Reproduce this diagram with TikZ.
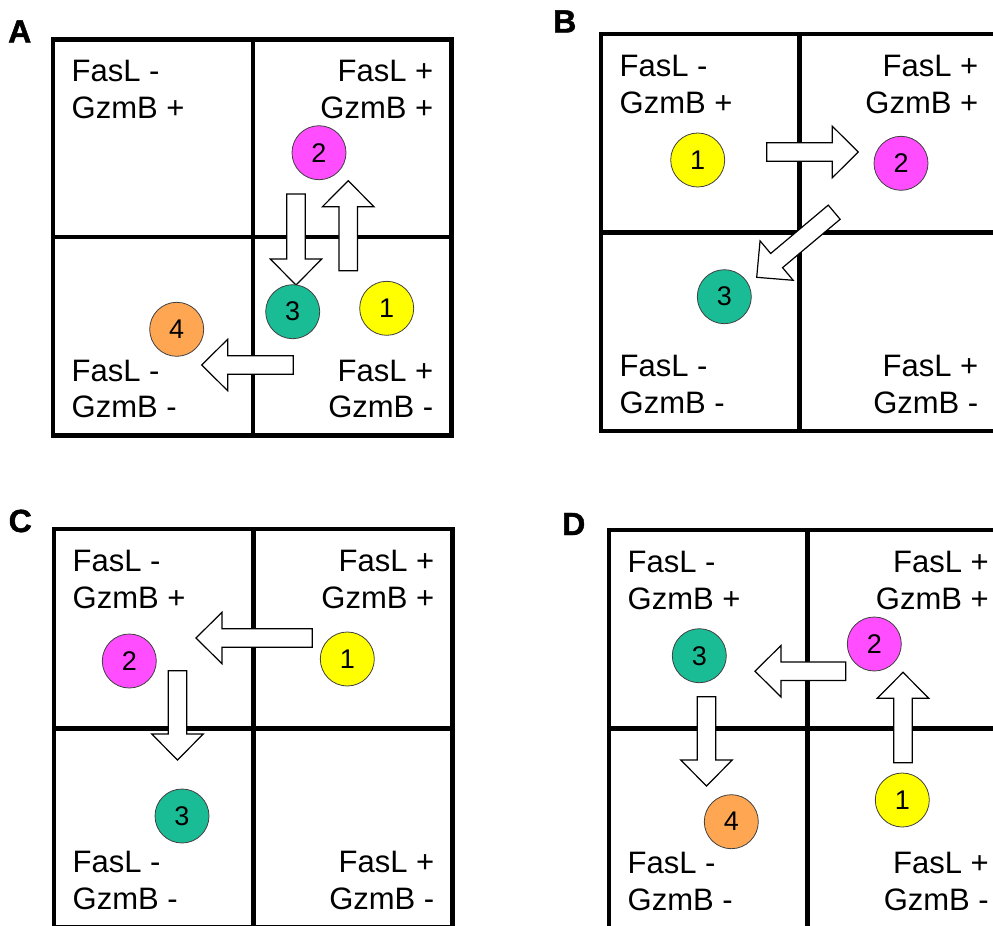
\documentclass[tikz,border=0pt]{standalone}
\usepackage{fontspec}
\setmainfont{Liberation Sans}
\newfontfamily\lblfont{Liberation Sans Bold}[FakeBold=1.5]
\usetikzlibrary{calc}
\definecolor{cyel}{RGB}{255,255,0}
\definecolor{cmag}{RGB}{255,77,255}
\definecolor{cteal}{RGB}{26,188,150}
\definecolor{corg}{RGB}{255,166,82}
\tikzset{
  gridline/.style={line width=4.5pt, line join=miter},
  cell/.style={circle, draw=black!75, line width=0.8pt, minimum size=54pt, inner sep=0pt, font=\fontsize{27}{27}\selectfont},
  lab/.style={inner sep=0pt, font=\fontsize{31}{36}\selectfont},
  panellab/.style={inner sep=0pt, anchor=base west, font=\lblfont\fontsize{32}{32}\selectfont},
  blockar/.style={draw=black, line width=1.2pt, fill=white, line join=miter},
}
% #1 prefix, #2 L, #3 R, #4 T, #5 B, #6 mx, #7 my
\newcommand\quadpanel[7]{%
  \draw[gridline] (#2,#4) rectangle (#3,#5);
  \draw[gridline] (#6,#4) -- (#6,#5);
  \draw[gridline] (#2,#7) -- (#3,#7);
  \node[lab, anchor=base west] (#1tla) at ({#2+18.5},{#4+42}) {FasL -};
  \node[lab, anchor=base west] (#1tlb) at ({#2+18.5},{#4+79}) {GzmB +};
  \node[lab, anchor=base east] (#1tra) at ({#3-18},{#4+42}) {FasL +};
  \node[lab, anchor=base east] (#1trb) at ({#3-18},{#4+79}) {GzmB +};
  \node[lab, anchor=base west] (#1bla) at ({#2+18.5},{#5-54.5}) {FasL -};
  \node[lab, anchor=base west] (#1blb) at ({#2+18.5},{#5-18}) {GzmB -};
  \node[lab, anchor=base east] (#1bra) at ({#3-18},{#5-54.5}) {FasL +};
  \node[lab, anchor=base east] (#1brb) at ({#3-18},{#5-18}) {GzmB -};
}
% #1 name, #2 tail coordinate, #3 tip coordinate
\newcommand\blockarrow[3]{%
  \coordinate (#1b) at ($(#3)!26pt!(#2)$);
  \draw[blockar] ($(#2)!9.25pt!90:(#3)$) -- ($(#1b)!9.25pt!90:(#3)$) -- ($(#1b)!25.75pt!90:(#3)$) -- (#3)
    -- ($(#1b)!25.75pt!-90:(#3)$) -- ($(#1b)!9.25pt!-90:(#3)$) -- ($(#2)!9.25pt!-90:(#3)$) -- cycle;
}
\begin{document}
\begin{tikzpicture}[x=1pt,y=-1pt]
\useasboundingbox (0,0) rectangle (993,926);
\clip (0,0) rectangle (993,926);

% ---------- Panel A ----------
\node[panellab] (labA) at (8,42.5) {A};
\quadpanel{a}{53}{451.5}{39.5}{435.5}{253}{237}
\coordinate (a1t) at (296,194);   \coordinate (a1h) at (296,285);
\coordinate (a2t) at (348.2,270.7); \coordinate (a2h) at (348.2,180.7);
\coordinate (a3t) at (293.3,365);  \coordinate (a3h) at (201.7,365);
\blockarrow{aar1}{a1t}{a1h}
\blockarrow{aar2}{a2t}{a2h}
\blockarrow{aar3}{a3t}{a3h}
\node[cell, fill=cyel] (a1) at (386.7,308.3) {1};
\node[cell, fill=cmag] (a2) at (319,152.7) {2};
\node[cell, fill=cteal] (a3) at (292.7,311.7) {3};
\node[cell, fill=corg] (a4) at (176.7,329.3) {4};

% ---------- Panel B ----------
\node[panellab] (labB) at (553,32.5) {B};
\quadpanel{b}{601}{996.5}{34}{431}{799.5}{232.5}
\coordinate (b1t) at (766.7,152); \coordinate (b1h) at (858.3,152);
\coordinate (b2t) at (834.2,212.2); \coordinate (b2h) at (756.7,277.3);
\blockarrow{bar1}{b1t}{b1h}
\blockarrow{bar2}{b2t}{b2h}
\node[cell, fill=cyel] (b1) at (697.7,160) {1};
\node[cell, fill=cmag] (b2) at (901,163.3) {2};
\node[cell, fill=cteal] (b3) at (724.3,296.7) {3};

% ---------- Panel C ----------
\node[panellab] (labC) at (8.5,532) {C};
\quadpanel{c}{54}{452.5}{529}{927}{253.3}{728.5}
\coordinate (c1t) at (312.3,638); \coordinate (c1h) at (196,638);
\coordinate (c2t) at (177.5,670.7); \coordinate (c2h) at (177.5,760);
\blockarrow{car1}{c1t}{c1h}
\blockarrow{car2}{c2t}{c2h}
\node[cell, fill=cyel] (c1) at (347.3,659) {1};
\node[cell, fill=cmag] (c2) at (129.3,661) {2};
\node[cell, fill=cteal] (c3) at (182,816) {3};

% ---------- Panel D ----------
\node[panellab] (labD) at (562,535) {D};
\quadpanel{d}{609}{1007}{530}{928}{807.5}{728.5}
\coordinate (d1t) at (903,762.7); \coordinate (d1h) at (903,672.3);
\coordinate (d2t) at (845.7,671.2); \coordinate (d2h) at (755,671.2);
\coordinate (d3t) at (706.5,696.7); \coordinate (d3h) at (706.5,786);
\blockarrow{dar1}{d1t}{d1h}
\blockarrow{dar2}{d2t}{d2h}
\blockarrow{dar3}{d3t}{d3h}
\node[cell, fill=cyel] (d1) at (902.3,800) {1};
\node[cell, fill=cmag] (d2) at (874.3,644) {2};
\node[cell, fill=cteal] (d3) at (699.3,655.7) {3};
\node[cell, fill=corg] (d4) at (731.3,821.7) {4};
\end{tikzpicture}
\end{document}
